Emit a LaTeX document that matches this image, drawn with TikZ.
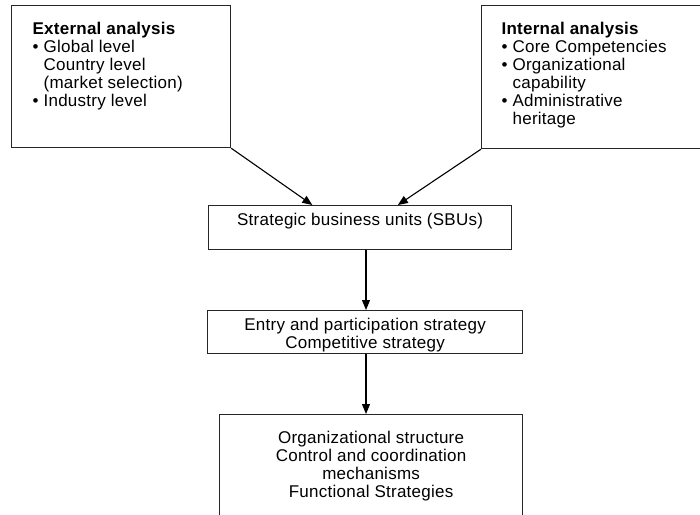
\documentclass[tikz,border=0pt]{standalone}
\usepackage{fontspec}
\setmainfont{Liberation Sans}[LetterSpace=1.5]
\usetikzlibrary{arrows.meta,calc}
\newcommand\itembullet{\makebox[11pt][l]{\textbullet}}
\newcommand\itemgap{\hspace*{11pt}}
\newcommand\lowerline{\rule{0pt}{18.5pt}}
\begin{document}
\begin{tikzpicture}[x=1pt,y=-1pt,
  font=\fontsize{17}{18}\selectfont,
  panel/.style={draw=black!85, line width=1.2pt, fill=white, inner sep=0pt, anchor=north west},
  flow/.style={draw=black, line width=1.1pt, -{Triangle[length=10pt,width=8pt]}}]
\clip (0,0) rectangle (700,514);
\fill[white] (0,0) rectangle (700,514);

% analysis panels
\node[panel] (ext) at (11,5) {\parbox[c][142pt][t]{219pt}{\vspace*{16pt}\hspace*{21pt}%
  \begin{tabular}[t]{@{}l@{}}
  \textbf{External analysis}\\
  \itembullet Global level\\
  \itemgap Country level\\
  \itemgap (market selection)\\
  \itembullet Industry level
  \end{tabular}}};

\node[panel] (int) at (481,5) {\parbox[c][143pt][t]{231pt}{\vspace*{16pt}\hspace*{20pt}%
  \begin{tabular}[t]{@{}l@{}}
  \textbf{Internal analysis}\\
  \itembullet Core Competencies\\
  \itembullet Organizational\\
  \itemgap capability\\
  \itembullet Administrative\\
  \itemgap heritage
  \end{tabular}}};

% flow of decisions
\node[panel, minimum width=303pt, minimum height=44pt, align=center] (sbu) at (208,205)
  {\lowerline Strategic business units (SBUs)\\ \strut};
\node[panel, minimum width=315pt, minimum height=43pt, align=center] (entry) at (207,310)
  {\lowerline Entry and participation strategy\\Competitive strategy};
\node[panel, minimum width=303pt, minimum height=102pt, align=center] (org) at (219,414)
  {Organizational structure\\Control and coordination\\mechanisms\\Functional Strategies};

% connectors
\coordinate (ax) at (366,0);
\draw[flow] (ext.south east) -- ($(sbu.north west)!0.343!(sbu.north east)$);
\draw[flow] (int.south west) -- ($(sbu.north west)!0.624!(sbu.north east)$);
\draw[flow] (sbu.south -| ax) -- (entry.north -| ax);
\draw[flow] (entry.south -| ax) -- (org.north -| ax);
\end{tikzpicture}
\end{document}
